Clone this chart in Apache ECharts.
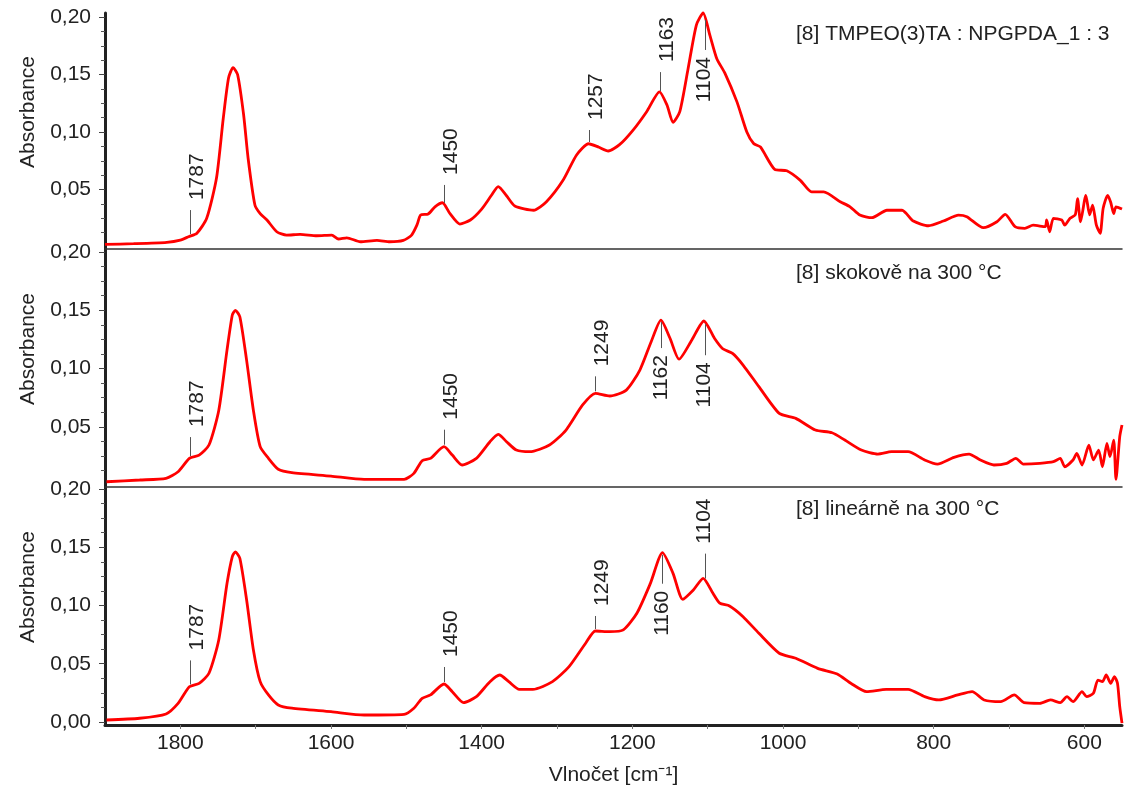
<!DOCTYPE html>
<html>
<head>
<meta charset="utf-8">
<title>IR spektra</title>
<script src="https://cdn.jsdelivr.net/npm/echarts@6/dist/echarts.min.js"></script>
<style>
  html, body { margin: 0; padding: 0; background: #fff; }
  #chart { width: 1136px; height: 791px; }
</style>
</head>
<body>
<div id="chart"></div>
<script>
// popisky panelu
const titles = ['[8] TMPEO(3)TA : NPGPDA_1 : 3', '[8] skokově na 300 °C', '[8] lineárně na 300 °C']

// osa x (vlnocet) a osa y (absorbance)
const xLabels = [1800, 1600, 1400, 1200, 1000, 800, 600]
const xTicks = [1800, 1700, 1600, 1500, 1400, 1300, 1200, 1100, 1000, 900, 800, 700, 600]
const yLabelsTop = [0.05, 0.10, 0.15, 0.20]
const yLabelsBottom = [0, 0.05, 0.10, 0.15, 0.20]
const yMinor = [0.0125, 0.025, 0.0375, 0.0625, 0.075, 0.0875, 0.1125, 0.125, 0.1375, 0.1625, 0.175, 0.1875]

// spektrum 1 - vychozi
const spectrum1 = [
  [1900, 0.0023], [1862, 0.0029], [1818, 0.0041], [1800, 0.0060], [1789, 0.0090], [1778, 0.0120],
  [1765, 0.0250], [1752, 0.0600], [1743, 0.1120], [1736, 0.1470], [1730, 0.1560], [1724, 0.1500],
  [1716, 0.1150], [1710, 0.0770], [1701, 0.0365], [1694, 0.0290], [1685, 0.0235], [1672, 0.0133],
  [1659, 0.0104], [1641, 0.0110], [1619, 0.0098], [1599, 0.0104], [1590, 0.0070], [1579, 0.0080],
  [1561, 0.0046], [1539, 0.0058], [1522, 0.0046], [1504, 0.0058], [1493, 0.0104], [1486, 0.0190],
  [1481, 0.0278], [1471, 0.0287], [1462, 0.0350], [1452, 0.0385], [1442, 0.0290], [1429, 0.0200],
  [1415, 0.0235], [1400, 0.0330], [1387, 0.0450], [1378, 0.0525], [1367, 0.0446], [1356, 0.0357],
  [1331, 0.0320], [1314, 0.0394], [1292, 0.0580], [1274, 0.0800], [1258, 0.0898], [1245, 0.0870],
  [1232, 0.0835], [1217, 0.0890], [1199, 0.1017], [1181, 0.1177], [1164, 0.1350], [1154, 0.1235],
  [1146, 0.1084], [1137, 0.1177], [1126, 0.1550], [1115, 0.1930], [1106, 0.2035], [1097, 0.1840],
  [1088, 0.1640], [1077, 0.1510], [1061, 0.1260], [1048, 0.1000], [1039, 0.0900], [1030, 0.0870],
  [1011, 0.0675], [995, 0.0663], [977, 0.0580], [962, 0.0480], [946, 0.0480], [924, 0.0394],
  [911, 0.0350], [898, 0.0278], [882, 0.0255], [862, 0.0320], [842, 0.0320], [827, 0.0226],
  [807, 0.0185], [787, 0.0226], [767, 0.0278], [756, 0.0264], [734, 0.0168], [716, 0.0220],
  [705, 0.0284], [692, 0.0177], [679, 0.0162], [668, 0.0190], [652, 0.0177], [650, 0.0235],
  [646, 0.0133], [641, 0.0250], [630, 0.0235], [626, 0.0190], [619, 0.0250], [612, 0.0280],
  [609, 0.0420], [605, 0.0220], [598, 0.0450], [593, 0.0280], [589, 0.0365], [584, 0.0190],
  [579, 0.0120], [575, 0.0337], [569, 0.0450], [565, 0.0390], [561, 0.0290], [558, 0.0350],
  [550, 0.0330]
]

// spektrum 2 - skokove na 300 °C
const spectrum2 = [
  [1898, 0.0028], [1854, 0.0043], [1819, 0.0057], [1803, 0.0114], [1788, 0.0229], [1775, 0.0257],
  [1762, 0.0343], [1749, 0.0640], [1738, 0.1160], [1731, 0.1460], [1727, 0.1500], [1721, 0.1445],
  [1712, 0.1070], [1703, 0.0640], [1694, 0.0329], [1683, 0.0229], [1670, 0.0135], [1652, 0.0106],
  [1600, 0.0077], [1556, 0.0049], [1503, 0.0049], [1490, 0.0100], [1479, 0.0209], [1468, 0.0229],
  [1450, 0.0329], [1439, 0.0257], [1426, 0.0172], [1407, 0.0229], [1389, 0.0372], [1378, 0.0435],
  [1367, 0.0372], [1354, 0.0300], [1336, 0.0286], [1310, 0.0343], [1288, 0.0472], [1266, 0.0687],
  [1249, 0.0787], [1230, 0.0764], [1208, 0.0815], [1190, 0.0987], [1175, 0.1230], [1162, 0.1416],
  [1150, 0.1260], [1138, 0.1080], [1121, 0.1245], [1105, 0.1408], [1091, 0.1260], [1080, 0.1170],
  [1067, 0.1130], [1053, 0.1030], [1032, 0.0844], [1005, 0.0615], [983, 0.0572], [957, 0.0472],
  [935, 0.0449], [918, 0.0386], [896, 0.0300], [874, 0.0266], [856, 0.0286], [834, 0.0286],
  [812, 0.0215], [795, 0.0180], [773, 0.0238], [753, 0.0266], [738, 0.0215], [720, 0.0172],
  [703, 0.0186], [691, 0.0229], [681, 0.0180], [659, 0.0186], [641, 0.0200], [632, 0.0229],
  [626, 0.0157], [615, 0.0215], [610, 0.0272], [603, 0.0172], [594, 0.0343], [588, 0.0215],
  [581, 0.0300], [576, 0.0157], [570, 0.0358], [566, 0.0243], [561, 0.0386], [558, 0.0049],
  [553, 0.0415], [550, 0.0515]
]

// spektrum 3 - linearne na 300 °C
const spectrum3 = [
  [1898, 0.0017], [1854, 0.0032], [1819, 0.0069], [1803, 0.0160], [1788, 0.0303], [1775, 0.0332],
  [1762, 0.0418], [1749, 0.0704], [1738, 0.1190], [1731, 0.1420], [1727, 0.1460], [1721, 0.1405],
  [1712, 0.1047], [1703, 0.0618], [1694, 0.0346], [1683, 0.0232], [1670, 0.0146], [1652, 0.0118],
  [1600, 0.0088], [1556, 0.0060], [1503, 0.0066], [1490, 0.0118], [1479, 0.0203], [1468, 0.0232],
  [1450, 0.0326], [1439, 0.0260], [1424, 0.0166], [1407, 0.0217], [1389, 0.0346], [1376, 0.0403],
  [1364, 0.0346], [1350, 0.0280], [1332, 0.0280], [1306, 0.0346], [1284, 0.0475], [1262, 0.0676],
  [1249, 0.0781], [1230, 0.0775], [1212, 0.0790], [1194, 0.0933], [1176, 0.1190], [1160, 0.1453],
  [1146, 0.1276], [1133, 0.1053], [1119, 0.1133], [1106, 0.1233], [1093, 0.1105], [1084, 0.1020],
  [1071, 0.0996], [1053, 0.0904], [1032, 0.0761], [1005, 0.0590], [983, 0.0547], [954, 0.0460],
  [928, 0.0412], [910, 0.0332], [889, 0.0260], [863, 0.0280], [834, 0.0280], [812, 0.0217],
  [793, 0.0189], [768, 0.0232], [749, 0.0260], [733, 0.0189], [711, 0.0174], [693, 0.0232],
  [680, 0.0166], [659, 0.0160], [645, 0.0189], [632, 0.0166], [623, 0.0217], [615, 0.0174],
  [603, 0.0260], [597, 0.0217], [588, 0.0246], [582, 0.0360], [576, 0.0346], [571, 0.0403],
  [565, 0.0332], [560, 0.0389], [556, 0.0332], [553, 0.0131], [550, -0.0010]
]

// oznacene pasy: vlnocet, smer popisku
const peaks1 = [[1787, 'up'], [1450, 'up'], [1257, 'up'], [1163, 'up'], [1104, 'down']]
const peaks2 = [[1787, 'up'], [1450, 'up'], [1249, 'up'], [1162, 'down'], [1104, 'down']]
const peaks3 = [[1787, 'up'], [1450, 'up'], [1249, 'up'], [1160, 'down'], [1104, 'up']]

// delky carek u popisku (px)
const stemLen = [[24, 18, 12, 19, 30], [19, 15, 15, 26, 31], [24, 15, 13, 29, 25]]

const FONT = '"Liberation Sans", Arial, Helvetica, sans-serif'
const FS = 21
const TXT = '#222'

const panels = [
  { top: 13, height: 236, min: -0.0017, max: 0.2035, labels: yLabelsTop, data: spectrum1, peaks: peaks1 },
  { top: 249, height: 238, min: -0.0017, max: 0.2026, labels: yLabelsTop, data: spectrum2, peaks: peaks2 },
  { top: 487, height: 238, min: -0.0026, max: 0.2017, labels: yLabelsBottom, data: spectrum3, peaks: peaks3 }
]

// hodnota spektra v danem vlnoctu (linearni interpolace)
function valueAt(data, x) {
  for (let i = 0; i < data.length - 1; i++) {
    const [x0, y0] = data[i]
    const [x1, y1] = data[i + 1]
    if ((x0 - x) * (x1 - x) <= 0) {
      const t = x1 === x0 ? 0 : (x - x0) / (x1 - x0)
      return y0 + t * (y1 - y0)
    }
  }
  return 0
}

const chart = echarts.init(document.getElementById('chart'), null, { renderer: 'canvas' })

const grid = []
const xAxis = []
const yAxis = []
const series = []
const graphic = []

panels.forEach((p, i) => {
  const last = i === panels.length - 1
  grid.push({ left: 105, right: 14, top: p.top, height: p.height })

  xAxis.push({
    type: 'value', gridIndex: i, min: 550, max: 1900, inverse: true,
    splitLine: { show: false },
    axisLine: { show: true, onZero: false, lineStyle: { color: last ? '#222' : '#333', width: last ? 3 : 1.5 } },
    axisTick: last
      ? { show: true, length: 4, inside: false, customValues: xTicks, lineStyle: { color: '#777', width: 1 } }
      : { show: false },
    axisLabel: last
      ? { show: true, customValues: xLabels, fontSize: FS, color: TXT, fontFamily: FONT, margin: 8, formatter: v => String(v) }
      : { show: false },
    name: last ? 'Vlnočet [cm⁻¹]' : '',
    nameLocation: 'middle',
    nameGap: 40,
    nameTextStyle: { fontSize: FS, color: TXT, fontFamily: FONT }
  })

  // hlavni osa y s popisky
  yAxis.push({
    type: 'value', gridIndex: i, min: p.min, max: p.max,
    splitLine: { show: false },
    axisLine: { show: true, onZero: false, lineStyle: { color: '#222', width: 3 } },
    axisTick: { show: true, length: 6, customValues: p.labels, lineStyle: { color: '#444', width: 1 } },
    axisLabel: {
      customValues: p.labels, fontSize: FS, color: TXT, fontFamily: FONT, margin: 14,
      formatter: v => v.toFixed(2).replace('.', ',')
    }
  })
  // vedlejsi carky
  yAxis.push({
    type: 'value', gridIndex: i, min: p.min, max: p.max, position: 'left',
    splitLine: { show: false },
    axisLine: { show: false },
    axisTick: { show: true, length: 4, customValues: yMinor, lineStyle: { color: '#555', width: 1 } },
    axisLabel: { show: false }
  })

  series.push({
    type: 'line', xAxisIndex: i, yAxisIndex: i * 2,
    data: p.data, showSymbol: false, smooth: 0.22, clip: false, silent: true, z: 3,
    lineStyle: { color: '#ff0000', width: 2.8 }
  })

  series.push({
    type: 'custom', xAxisIndex: i, yAxisIndex: i * 2, clip: false, silent: true, z: 5,
    data: p.peaks.map(pk => [pk[0], valueAt(p.data, pk[0])]),
    renderItem(params, api) {
      const pk = p.peaks[params.dataIndex]
      const len = stemLen[i][params.dataIndex]
      const pt = api.coord([api.value(0), api.value(1)])
      const up = pk[1] === 'up'
      const x = Math.round(pt[0]) + 0.5
      const y0 = up ? pt[1] - 2 : pt[1] + 2
      const y1 = up ? y0 - len : y0 + len
      const centered = !up || (i === 2 && pk[0] === 1104)
      return {
        type: 'group',
        children: [
          { type: 'line', shape: { x1: x, y1: y0, x2: x, y2: y1 }, style: { stroke: '#555', lineWidth: 1 } },
          {
            type: 'text', x: centered ? pt[0] : pt[0] + 7, y: up ? y1 - 10 : y1 + 7, rotation: Math.PI / 2,
            style: {
              text: String(pk[0]), fontSize: FS, fontFamily: FONT, fill: TXT,
              align: up ? 'left' : 'right', verticalAlign: 'middle'
            }
          }
        ]
      }
    }
  })

  graphic.push({
    type: 'text', x: 28, y: p.top + p.height / 2 - 19, rotation: Math.PI / 2,
    style: { text: 'Absorbance', fontSize: FS, fontFamily: FONT, fill: TXT, align: 'center', verticalAlign: 'middle' }
  })
  graphic.push({
    type: 'text', x: 796, y: [34, 273, 509][i],
    style: { text: titles[i], fontSize: FS, fontFamily: FONT, fill: TXT, align: 'left', verticalAlign: 'middle' }
  })
})

chart.setOption({
  animation: false,
  backgroundColor: '#fff',
  grid, xAxis, yAxis, series, graphic
})
</script>
</body>
</html>
